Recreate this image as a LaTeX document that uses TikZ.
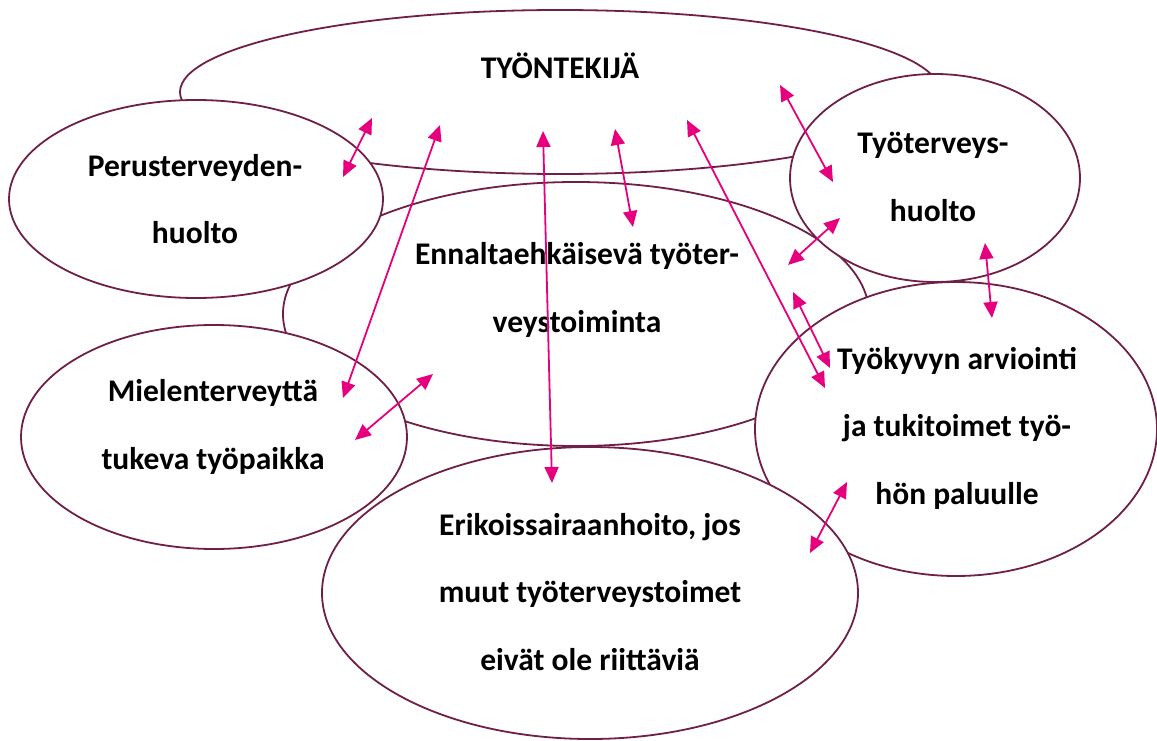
\documentclass[tikz,border=0pt]{standalone}
\usepackage{fontspec}
\setmainfont{Carlito}
\usetikzlibrary{shapes.geometric,arrows.meta}
\definecolor{rim}{RGB}{112,32,72}
\definecolor{arrowpink}{RGB}{230,0,126}
\tikzset{
  bubble/.style={ellipse, draw=rim, line width=1.8pt, fill=white, inner sep=0pt, outer sep=0pt},
  txt/.style={font=\bfseries\fontsize{31.5}{67.5}\selectfont, align=center, inner sep=0pt, text=black},
  link/.style={draw=arrowpink, line width=1.8pt, {Triangle[length=16pt,width=14pt]}-{Triangle[length=16pt,width=14pt]}}
}
\begin{document}
\begin{tikzpicture}[x=1pt,y=-1pt]
\useasboundingbox (0,0) rectangle (1157,741);
\fill[white] (0,0) rectangle (1157,741);
% ellipses (back to front)
\node[bubble, minimum width=760pt, minimum height=164pt] (worker) at (560,92) {};
\node[bubble, minimum width=586pt, minimum height=264pt] (prevent) at (576,314) {};
\node[bubble, minimum width=374pt, minimum height=198pt] (primary) at (196,199) {};
\node[bubble, minimum width=386pt, minimum height=224pt] (mental) at (214,437) {};
\node[bubble, minimum width=290pt, minimum height=208pt] (occhealth) at (935,178) {};
\node[bubble, minimum width=402pt, minimum height=294pt] (workability) at (956,429) {};
\node[bubble, minimum width=536pt, minimum height=292pt] (special) at (590,593) {};
% texts
\node[txt, anchor=base] (tworker) at (560,79) {TYÖNTEKIJÄ};
\node[txt] (tprevent) at (577,290) {Ennaltaehkäisevä työter-\\veystoiminta};
\node[txt] (tprimary) at (195,199) {Perusterveyden-\\huolto};
\node[txt] (tmental) at (213,427) {Mielenterveyttä\\tukeva työpaikka};
\node[txt] (tocchealth) at (933,177) {Työterveys-\\huolto};
\node[txt] (tworkability) at (957,428) {Työkyvyn arviointi\\ja tukitoimet työ-\\hön paluulle};
\node[txt] (tspecial) at (590,592) {Erikoissairaanhoito, jos\\muut työterveystoimet\\eivät ole riittäviä};
% arrow end points
\coordinate (a1s) at (343,177); \coordinate (a1e) at (372,118);
\coordinate (a2s) at (343,398); \coordinate (a2e) at (440,125);
\coordinate (a3s) at (552,483); \coordinate (a3e) at (543,131);
\coordinate (a4s) at (633,227); \coordinate (a4e) at (615,129);
\coordinate (a5s) at (825,388); \coordinate (a5e) at (687,120);
\coordinate (a6s) at (833,182); \coordinate (a6e) at (780,85);
\coordinate (a7s) at (788,265); \coordinate (a7e) at (840,218);
\coordinate (a8s) at (793,292); \coordinate (a8e) at (830,368);
\coordinate (a9s) at (985,243); \coordinate (a9e) at (992,318);
\coordinate (a10s) at (355,440); \coordinate (a10e) at (433,374);
\coordinate (a11s) at (810,553); \coordinate (a11e) at (847,482);
% arrows
\foreach \i in {1,...,11} { \draw[link] (a\i s) -- (a\i e); }
\end{tikzpicture}
\end{document}
